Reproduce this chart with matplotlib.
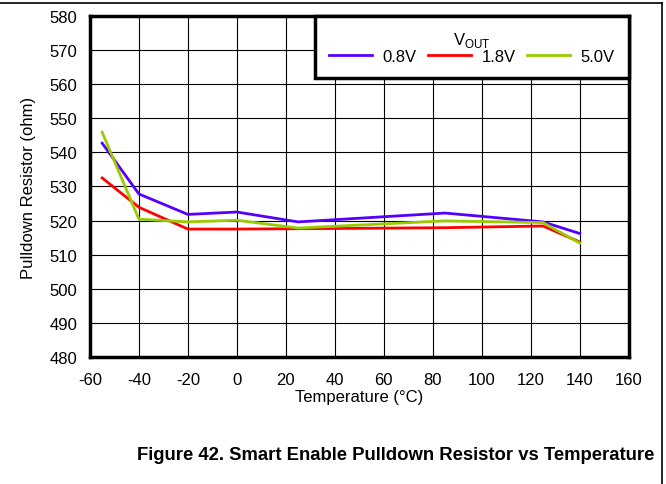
import numpy as np
import matplotlib
matplotlib.use('Agg')
import matplotlib.pyplot as plt
from matplotlib.lines import Line2D

plt.rcParams['font.family'] = ['Liberation Sans', 'DejaVu Sans']
plt.rcParams['axes.unicode_minus'] = False

temp = [-55, -40, -20, 0, 25, 85, 125, 140]
r_08 = [542.7, 527.8, 521.8, 522.5, 519.6, 522.2, 519.6, 516.2]
r_18 = [532.5, 523.9, 517.5, 517.5, 517.6, 517.9, 518.4, 513.7]
r_50 = [545.9, 520.4, 519.6, 520.1, 517.8, 519.9, 519.4, 513.4]
labels = ['0.8V', '1.8V', '5.0V']
colors = ['#5500ff', '#ff0000', '#99cc00']

fig = plt.figure(figsize=(6.66, 4.85), dpi=100)
ax = fig.add_axes([0.135, 0.262, 0.809, 0.703])

for y, lab, c in zip([r_08, r_18, r_50], labels, colors):
    ax.plot(temp, y, color=c, lw=2, label=lab)

ax.set_xlim(-60, 160)
ax.set_ylim(480, 580)
ax.set_xticks(np.arange(-60, 161, 20))
ax.set_yticks(np.arange(480, 581, 10))
ax.grid(True, color='black', lw=0.8)
ax.tick_params(axis='x', length=0, labelsize=12, pad=11)
ax.tick_params(axis='y', length=0, labelsize=12, pad=9)
for s in ax.spines.values():
    s.set_linewidth(2.5)
ax.set_xlabel('Temperature (°C)', fontsize=12, labelpad=1)
ax.set_ylabel('Pulldown Resistor (ohm)', fontsize=12, labelpad=10)

leg = ax.legend(title='V$_{\\mathregular{OUT}}$', ncol=3, loc='upper right',
                bbox_to_anchor=(1.0, 1.0),
                fontsize=12, title_fontsize=12,
                fancybox=False, framealpha=1, edgecolor='black',
                borderaxespad=0, handlelength=2.6, columnspacing=0.7,
                handletextpad=0.6, borderpad=0.85)
leg.get_frame().set_linewidth(2.5)
leg._legend_box.sep = 0

fig.text(0.982, 0.06, 'Figure 42. Smart Enable Pulldown Resistor vs Temperature',
         ha='right', va='center', fontsize=13.3, fontweight='bold')

fig.add_artist(Line2D([0, 0.994], [0.992, 0.992], color='black', lw=1.2))
fig.add_artist(Line2D([0.994, 0.994], [0, 0.992], color='black', lw=1.2))

fig.savefig('out.png', dpi=100)
